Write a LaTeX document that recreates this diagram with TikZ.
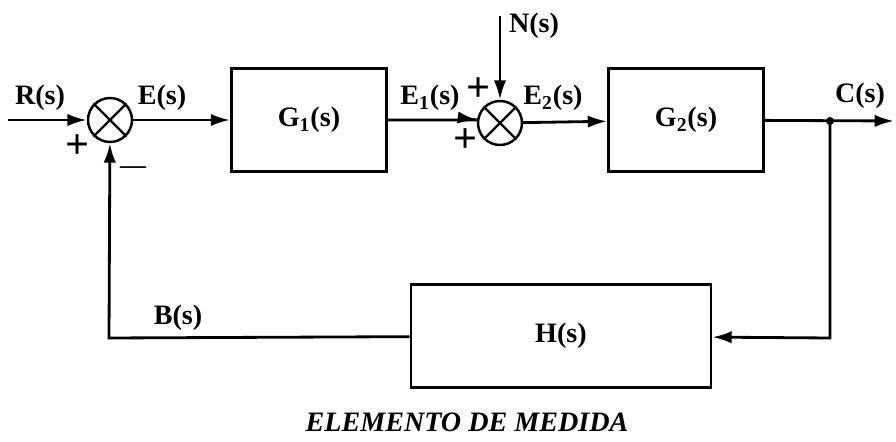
\documentclass[tikz,border=0pt]{standalone}
\usepackage{fontspec}
\setmainfont{Liberation Serif}
\usetikzlibrary{arrows.meta}

\begin{document}
\begin{tikzpicture}[x=0.02cm, y=-0.02cm, >={Latex[length=11pt,width=7pt]},
    line width=1.6pt, font=\fontsize{16}{19}\selectfont\bfseries,
    bloque/.style={draw, rectangle, minimum width=3.1cm, minimum height=2.05cm},
    suma/.style={draw, circle, minimum size=0.88cm, inner sep=0pt, line width=1.4pt}]
        \useasboundingbox (0,0) rectangle (896,442);
        % ==== BLOQUES ====
        \node[suma] (s1) at (110,120) {};
        \node[bloque] (g1) at (309,120) {G\textsubscript{1}(s)};
        \node[suma] (s2) at (500,123) {};
        \node[bloque] (g2) at (686,120) {G\textsubscript{2}(s)};
        \node[bloque, minimum width=6cm] (h) at (561,336) {H(s)};
        \draw[line width=1.4pt] (s1.north west) -- (s1.south east) (s1.north east) -- (s1.south west);
        \draw[line width=1.4pt] (s2.north west) -- (s2.south east) (s2.north east) -- (s2.south west);
        \coordinate (r) at (8,120);
        \coordinate (n) at (500,16);
        \coordinate (p) at (830,121);
        \coordinate (c) at (894,121);
        \coordinate (q) at (830,338);
        \coordinate (b) at (109,338);

        % ==== SEÑALES ====
        \draw[->] (r) -- (s1);
        \draw[->] (s1) -- (g1);
        \draw[->] (g1) -- (s1 -| s2.west) -- (s2);
        \draw[->] (n) -- (s2);
        \draw[->] (s2) -- (g2);
        \draw[->] (g2) -- (c);
        \fill (p) circle (4);
        \draw[->] (p) -- (q) -- (h);
        \draw[->] (h) -- (b) -- (s1);

        % ==== ETIQUETAS ====
        \node at (40,98) {R(s)};
        \node at (162,98) {E(s)};
        \node at (430,98) {E\textsubscript{1}(s)};
        \node at (553,98) {E\textsubscript{2}(s)};
        \node at (534,26) {N(s)};
        \node at (860,96) {C(s)};
        \node at (178,318) {B(s)};
        \node at (78,147) {\fontsize{24}{24}\selectfont +};
        \node at (479,90) {\fontsize{24}{24}\selectfont +};
        \node at (466,141) {\fontsize{24}{24}\selectfont +};
        \node at (133,168) {\fontsize{24}{24}\selectfont $-$};
        \node at (467,422) {\itshape ELEMENTO DE MEDIDA};
\end{tikzpicture}
\end{document}
